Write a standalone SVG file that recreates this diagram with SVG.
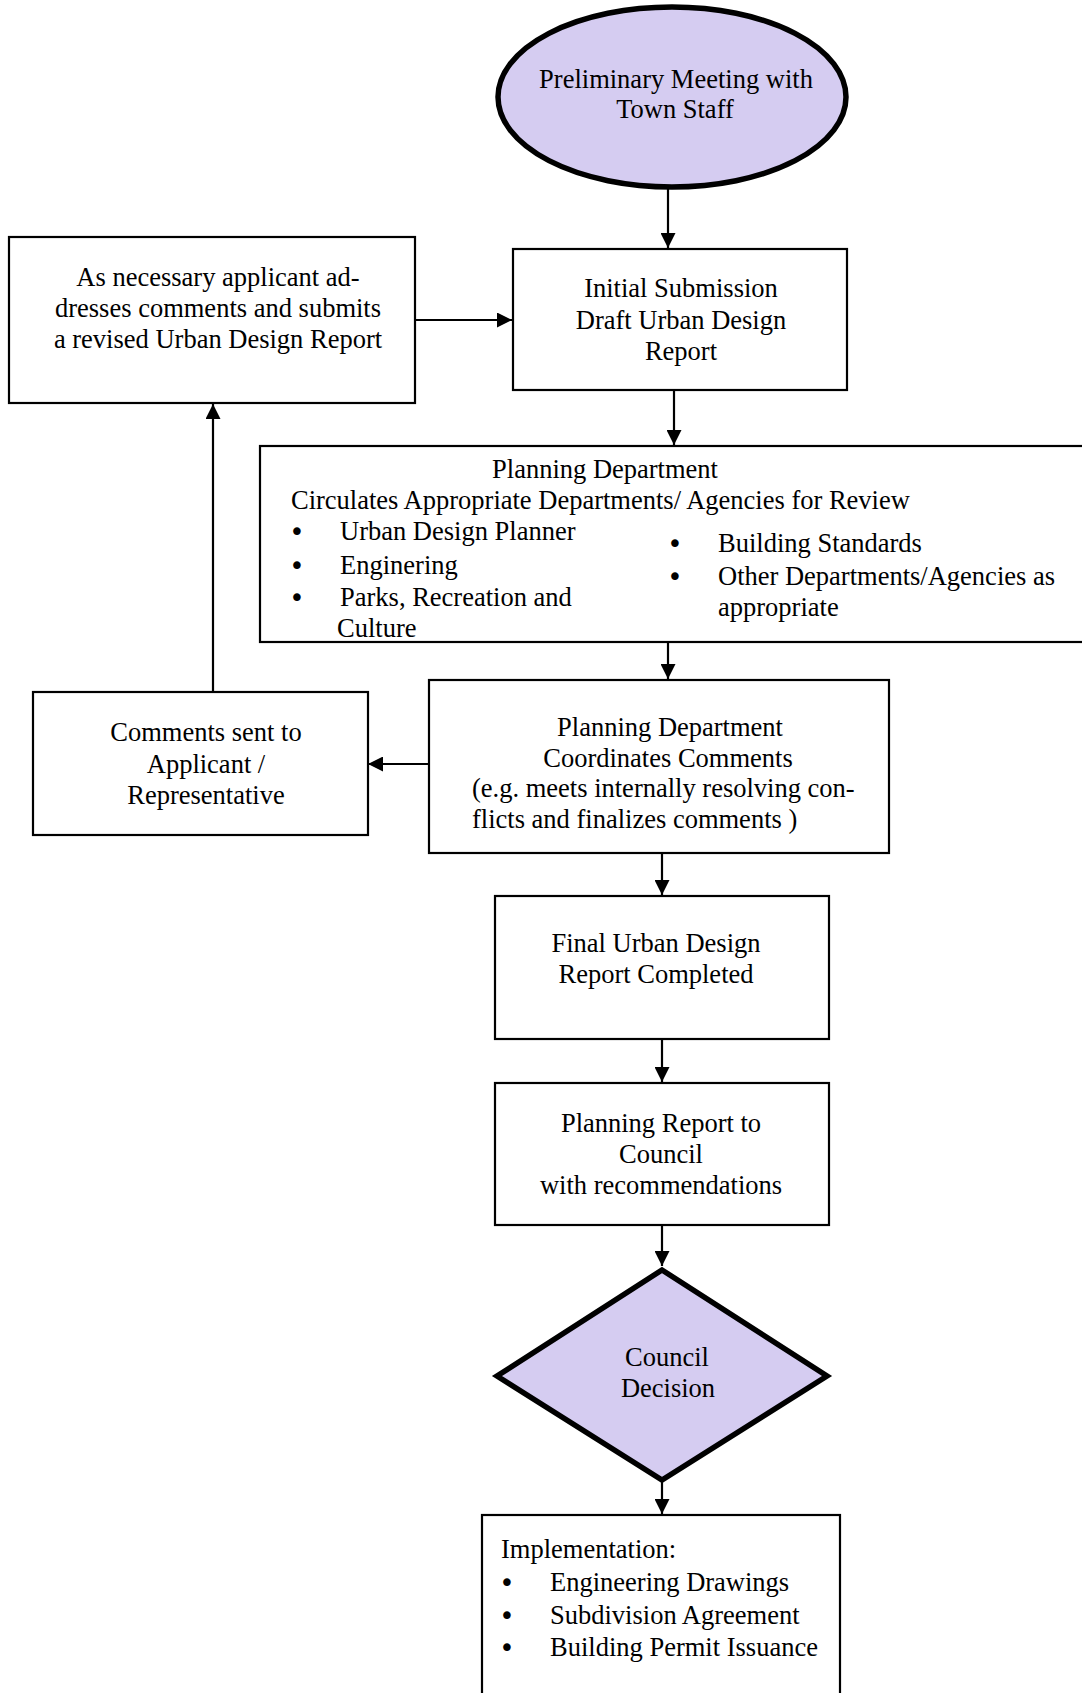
<svg xmlns="http://www.w3.org/2000/svg" width="1082" height="1693" viewBox="0 0 1082 1693">
<style>
text{font-family:"Liberation Serif","Times New Roman",serif;font-size:26.5px;fill:#000}
.c{text-anchor:middle}
.b{font-family:"DejaVu Sans",sans-serif;font-size:26px;text-anchor:middle}
.box{fill:#fff;stroke:#000;stroke-width:2.2}
.hl{fill:#D5CCF1;stroke:#000;stroke-width:5.5}
.conn{stroke:#000;stroke-width:2.2;fill:none;marker-end:url(#ah)}
</style>
<defs>
<marker id="ah" markerUnits="userSpaceOnUse" markerWidth="16" markerHeight="15" refX="15" refY="7.5" orient="auto">
<path d="M0,0 L15,7.5 L0,15 Z" fill="#000"/>
</marker>
</defs>
<rect width="1082" height="1693" fill="#fff"/>
<g id="connectors">
<line class="conn" x1="668" y1="188" x2="668" y2="248"/>
<line class="conn" x1="415" y1="320" x2="512" y2="320"/>
<line class="conn" x1="674" y1="390" x2="674" y2="445"/>
<line class="conn" x1="668" y1="642" x2="668" y2="679"/>
<line class="conn" x1="429" y1="764" x2="368" y2="764"/>
<line class="conn" x1="213" y1="692" x2="213" y2="404"/>
<line class="conn" x1="662" y1="853" x2="662" y2="895"/>
<line class="conn" x1="662" y1="1039" x2="662" y2="1082"/>
<line class="conn" x1="662" y1="1225" x2="662" y2="1266"/>
<line class="conn" x1="662" y1="1480" x2="662" y2="1514"/>
</g>
<g id="n_prelim">
<ellipse class="hl" cx="672" cy="97" rx="174" ry="90"/>
<text class="c" x="676" y="88">Preliminary Meeting with</text>
<text class="c" x="675" y="118">Town Staff</text>
</g>
<g id="n_initial">
<rect class="box" x="513" y="249" width="334" height="141"/>
<text class="c" x="681" y="297">Initial Submission</text>
<text class="c" x="681" y="329">Draft Urban Design</text>
<text class="c" x="681" y="360">Report</text>
</g>
<g id="n_revised">
<rect class="box" x="9" y="237" width="406" height="166"/>
<text class="c" x="218" y="286">As necessary applicant ad-</text>
<text class="c" x="218" y="317">dresses comments and submits</text>
<text class="c" x="218" y="348">a revised Urban Design Report</text>
</g>
<g id="n_circulate">
<rect class="box" x="260" y="446" width="830" height="196"/>
<text class="c" x="605" y="478">Planning Department</text>
<text x="291" y="509">Circulates Appropriate Departments/ Agencies for Review</text>
<text class="b" x="297" y="541">•</text>
<text x="340" y="540">Urban Design Planner</text>
<text class="b" x="297" y="575">•</text>
<text x="340" y="574">Enginering</text>
<text class="b" x="297" y="607">•</text>
<text x="340" y="606">Parks, Recreation and</text>
<text x="337" y="637">Culture</text>
<text class="b" x="675" y="553">•</text>
<text x="718" y="552">Building Standards</text>
<text class="b" x="675" y="586">•</text>
<text x="718" y="585">Other Departments/Agencies as</text>
<text x="718" y="616">appropriate</text>
</g>
<g id="n_coordinate">
<rect class="box" x="429" y="680" width="460" height="173"/>
<text class="c" x="670" y="736">Planning Department</text>
<text class="c" x="668" y="767">Coordinates Comments</text>
<text x="472" y="797">(e.g. meets internally resolving con-</text>
<text x="472" y="828">flicts and finalizes comments )</text>
</g>
<g id="n_comments">
<rect class="box" x="33" y="692" width="335" height="143"/>
<text class="c" x="206" y="741">Comments sent to</text>
<text class="c" x="206" y="773">Applicant /</text>
<text class="c" x="206" y="804">Representative</text>
</g>
<g id="n_final">
<rect class="box" x="495" y="896" width="334" height="143"/>
<text class="c" x="656" y="952">Final Urban Design</text>
<text class="c" x="656" y="983">Report Completed</text>
</g>
<g id="n_report">
<rect class="box" x="495" y="1083" width="334" height="142"/>
<text class="c" x="661" y="1132">Planning Report to</text>
<text class="c" x="661" y="1163">Council</text>
<text class="c" x="661" y="1194">with recommendations</text>
</g>
<g id="n_decision">
<polygon class="hl" points="662,1270 827,1376 662,1480 497,1376"/>
<text class="c" x="667" y="1366">Council</text>
<text class="c" x="668" y="1397">Decision</text>
</g>
<g id="n_impl">
<rect class="box" x="482" y="1515" width="358" height="200"/>
<text x="501" y="1558">Implementation:</text>
<text class="b" x="507" y="1592">•</text>
<text x="550" y="1591">Engineering Drawings</text>
<text class="b" x="507" y="1625">•</text>
<text x="550" y="1624">Subdivision Agreement</text>
<text class="b" x="507" y="1657">•</text>
<text x="550" y="1656">Building Permit Issuance</text>
</g>
</svg>
